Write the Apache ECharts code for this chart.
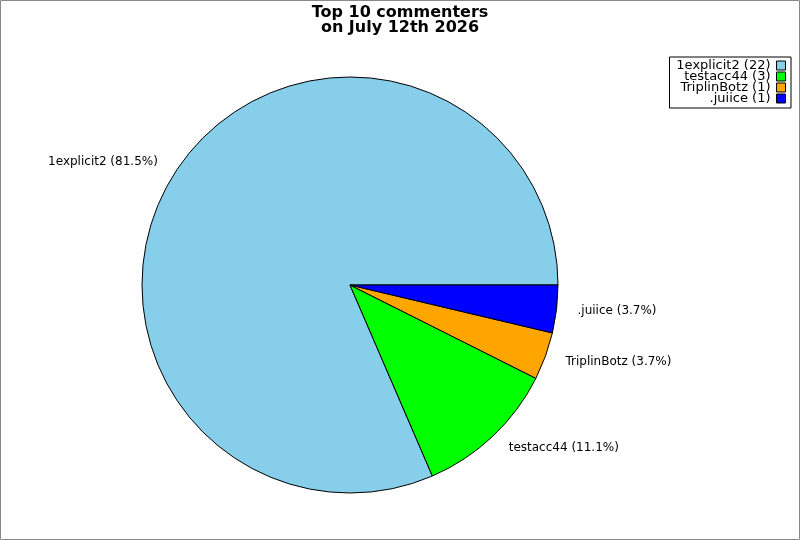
<!DOCTYPE html>
<html><head><meta charset="utf-8">
<script src="https://cdn.jsdelivr.net/npm/echarts@6/dist/echarts.min.js"></script>
<style>html,body{margin:0;padding:0;background:#fff}#c{width:800px;height:540px}</style>
</head><body><div id="c"></div>
<script>
const names = ['1explicit2', 'testacc44', 'TriplinBotz', '.juiice'];
const counts = [22, 3, 1, 1];
const colors = ['#87CEEB', '#00FF00', '#FFA500', '#0000FF'];
const titleText = 'Top 10 commenters\non July 12th 2026';

const total = counts.reduce((a, b) => a + b, 0);
const chart = echarts.init(document.getElementById('c'));
const legendNames = names.map((n, i) => n + ' (' + counts[i] + ')');
chart.setOption({
  backgroundColor: '#fff',
  animation: false,
  title: {
    text: titleText, left: 'center', top: 0,
    textStyle: { fontFamily: 'DejaVu Sans', fontSize: 16, fontWeight: 'bold', color: '#000', lineHeight: 15 }
  },
  legend: {
    orient: 'vertical', right: 9, top: 57, align: 'right',
    borderColor: '#000', borderWidth: 1, borderRadius: 0, backgroundColor: '#fff',
    padding: [2, 5, 3, 5], itemGap: -2, itemWidth: 9, itemHeight: 9,
    icon: 'rect',
    itemStyle: { borderColor: '#000', borderWidth: 1 },
    textStyle: { fontFamily: 'DejaVu Sans', fontSize: 13, color: '#000', lineHeight: 11, width: 96, align: 'right', padding: [0, 1, 0, 0] },
    data: legendNames
  },
  graphic: [{
    type: 'rect', silent: true, z: -10,
    shape: { x: 0.5, y: 0.5, width: 799, height: 539 },
    style: { fill: 'none', stroke: '#888', lineWidth: 1 }
  }],
  series: [{
    type: 'pie',
    center: [350, 285], radius: 208,
    startAngle: 0, clockwise: false,
    avoidLabelOverlap: false,
    itemStyle: { borderColor: '#000', borderWidth: 1 },
    emphasis: { disabled: true },
    label: {
      show: true, position: 'outside', alignTo: 'none',
      fontFamily: 'DejaVu Sans', fontSize: 12, color: '#000',
      formatter: p => names[p.dataIndex] + ' (' + (counts[p.dataIndex] / total * 100).toFixed(1) + '%)'
    },
    labelLine: { show: false, length: 16, length2: 0 },
    data: counts.map((v, i) => ({ name: legendNames[i], value: v, itemStyle: { color: colors[i] } }))
  }]
});
</script></body></html>
